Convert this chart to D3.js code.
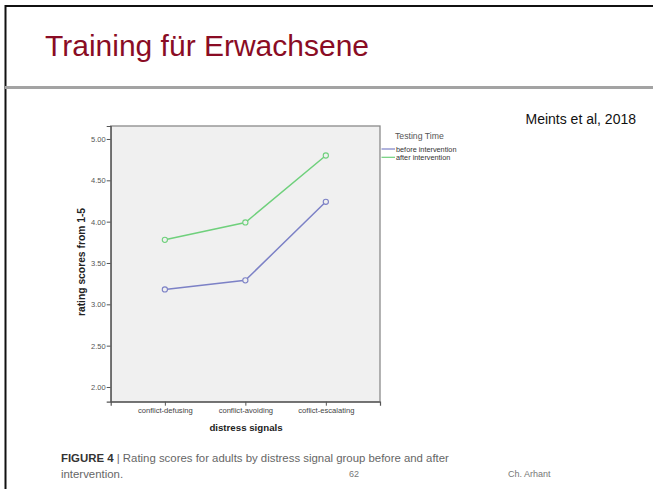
<!DOCTYPE html>
<html>
<head>
<meta charset="utf-8">
<script src="https://cdn.jsdelivr.net/npm/d3@7"></script>
<style>
  body { margin: 0; background: #fff; }
  svg { display: block; }
  text { font-family: "Liberation Sans", Arial, sans-serif; }
</style>
</head>
<body>
<svg id="chart" width="653" height="489"></svg>
<script>
const categories = ["conflict-defusing", "conflict-avoiding", "coflict-escalating"];
const beforeValues = [3.18, 3.29, 4.24];
const afterValues = [3.78, 3.99, 4.80];
const seriesNames = ["before intervention", "after intervention"];
const yTicks = [2.0, 2.5, 3.0, 3.5, 4.0, 4.5, 5.0];

const series = [
  { name: seriesNames[0], values: beforeValues, color: "#7c81c6" },
  { name: seriesNames[1], values: afterValues, color: "#6fd07c" }
];

const svg = d3.select("#chart");

// slide frame
svg.append("rect").attr("x", 0).attr("y", 0).attr("width", 653).attr("height", 489).attr("fill", "#fff");
svg.append("line").attr("x1", 5).attr("x2", 653).attr("y1", 6).attr("y2", 6).attr("stroke", "#111").attr("stroke-width", 2);
svg.append("line").attr("x1", 5.5).attr("x2", 5.5).attr("y1", 5).attr("y2", 489).attr("stroke", "#111").attr("stroke-width", 2);
svg.append("line").attr("x1", 5).attr("x2", 653).attr("y1", 87.5).attr("y2", 87.5).attr("stroke", "#a3a3a3").attr("stroke-width", 3);

svg.append("text").attr("x", 45).attr("y", 56).attr("font-size", 30).attr("fill", "#8a0c24")
  .text("Training für Erwachsene");
svg.append("text").attr("x", 636).attr("y", 124).attr("font-size", 14).attr("fill", "#111")
  .attr("text-anchor", "end").text("Meints et al, 2018");

// plot
const plot = { left: 110.7, right: 380, top: 126, bottom: 401.7 };
const x = d3.scalePoint().domain(categories).range([plot.left, plot.right]).padding(0.673);
const y = d3.scaleLinear().domain([1.822, 5.157]).range([plot.bottom, plot.top]);

svg.append("rect").attr("x", plot.left).attr("y", plot.top)
  .attr("width", plot.right - plot.left).attr("height", plot.bottom - plot.top)
  .attr("fill", "#f0f0f0").attr("stroke", "#8a8a8a").attr("stroke-width", 1.3);

const yAxis = svg.append("g").attr("transform", `translate(${plot.left},0)`)
  .call(d3.axisLeft(y).tickValues(yTicks).tickFormat(d3.format(".2f")).tickSize(4).tickPadding(1));
yAxis.select(".domain").attr("stroke", "#555").attr("stroke-width", 1.2);
yAxis.selectAll(".tick line").attr("stroke", "#555");
yAxis.selectAll(".tick text").attr("font-size", 7.5).attr("fill", "#555")
  .attr("font-family", "'Liberation Sans', Arial, sans-serif");

const xAxis = svg.append("g").attr("transform", `translate(0,${plot.bottom})`)
  .call(d3.axisBottom(x).tickSize(4).tickPadding(2));
xAxis.select(".domain").attr("stroke", "#555").attr("stroke-width", 1.2);
xAxis.selectAll(".tick line").attr("stroke", "#555");
xAxis.selectAll(".tick text").attr("font-size", 7.6).attr("fill", "#444")
  .attr("font-family", "'Liberation Sans', Arial, sans-serif");

svg.append("text").attr("x", 246).attr("y", 431).attr("text-anchor", "middle")
  .attr("font-size", 9.7).attr("font-weight", "bold").attr("fill", "#222").text("distress signals");
svg.append("text").attr("transform", "translate(85,262) rotate(-90)").attr("text-anchor", "middle")
  .attr("font-size", 10.3).attr("font-weight", "bold").attr("fill", "#222").text("rating scores from 1-5");

const line = d3.line().x((d, i) => x(categories[i])).y(d => y(d));
series.forEach(s => {
  svg.append("path").datum(s.values).attr("d", line).attr("fill", "none")
    .attr("stroke", s.color).attr("stroke-width", 1.5);
  svg.selectAll(null).data(s.values).enter().append("circle")
    .attr("cx", (d, i) => x(categories[i])).attr("cy", d => y(d)).attr("r", 2.6)
    .attr("fill", "#f0f0f0").attr("stroke", s.color).attr("stroke-width", 1.1);
});

// legend
svg.append("text").attr("x", 395).attr("y", 138.8).attr("font-size", 8.7).attr("fill", "#555").text("Testing Time");
series.forEach((s, i) => {
  const ly = 149 + i * 8.3;
  svg.append("line").attr("x1", 381.5).attr("x2", 395).attr("y1", ly).attr("y2", ly)
    .attr("stroke", s.color).attr("stroke-width", 1.2);
  svg.append("text").attr("x", 396).attr("y", ly + 2.5).attr("font-size", 7.3).attr("fill", "#333").text(s.name);
});

// caption
const cap = svg.append("text").attr("x", 61).attr("y", 462).attr("font-size", 11.4).attr("fill", "#666");
cap.append("tspan").attr("font-weight", "bold").attr("fill", "#333").text("FIGURE 4");
cap.append("tspan").text(" | Rating scores for adults by distress signal group before and after");
svg.append("text").attr("x", 61).attr("y", 478).attr("font-size", 11.4).attr("fill", "#666").text("intervention.");
svg.append("text").attr("x", 354).attr("y", 477).attr("font-size", 9).attr("fill", "#777").attr("text-anchor", "middle").text("62");
svg.append("text").attr("x", 508).attr("y", 477).attr("font-size", 9).attr("fill", "#777").text("Ch. Arhant");
</script>
</body>
</html>
